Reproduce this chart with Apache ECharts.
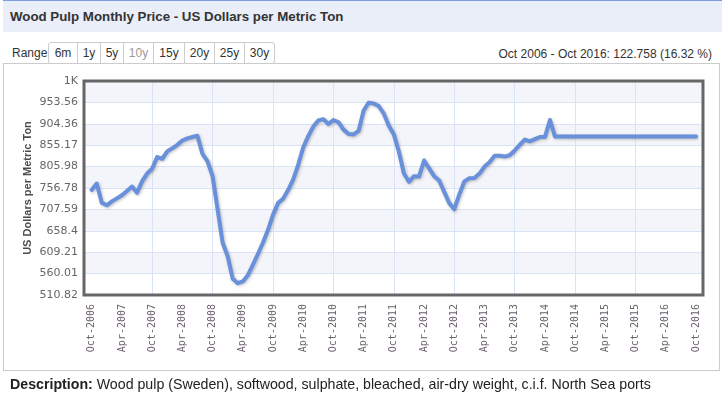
<!DOCTYPE html>
<html>
<head>
<meta charset="utf-8">
<script src="https://cdn.jsdelivr.net/npm/echarts@6/dist/echarts.min.js"></script>
<style>
    body { margin: 0; width: 722px; height: 398px; background: #fff; font-family: "Liberation Sans", Arial, sans-serif; position: relative; overflow: hidden; }
    #titleBar { position: absolute; left: 3px; top: 0; width: 719px; height: 31px; background: #E9EEF9; border-top: 1px solid #7E9DDF; }
    #titleBar span { position: absolute; left: 7px; top: 8px; font-size: 13.3px; font-weight: bold; color: #333; }
    #rangeLbl { position: absolute; left: 12px; top: 46px; font-size: 12px; color: #333; }
    #btns { position: absolute; left: 48px; top: 42px; height: 20px; border: 1px solid #ccc; border-radius: 3px; background: #fff; display: flex; z-index: 2; }
    #btns div { font-size: 12px; color: #333; line-height: 20px; text-align: center; border-left: 1px solid #ccc; }
    #btns div:first-child { border-left: none; }
    #btns div.sel { color: #999; }
    #change { position: absolute; right: 10px; top: 47px; font-size: 12px; color: #333; }
    #box { position: absolute; left: 3px; top: 63px; width: 715px; height: 306px; border: 1px solid #ccc; }
    #main { position: absolute; left: 0; top: 0; width: 722px; height: 398px; }
    #desc { position: absolute; left: 10px; top: 376px; font-size: 14.2px; color: #222; }
</style>
</head>
<body>
<div id="titleBar"><span>Wood Pulp Monthly Price - US Dollars per Metric Ton</span></div>
<div id="rangeLbl">Range</div>
<div id="btns">
    <div style="width:28px">6m</div>
    <div style="width:22px">1y</div>
    <div style="width:22px">5y</div>
    <div style="width:29px" class="sel">10y</div>
    <div style="width:30px">15y</div>
    <div style="width:29px">20y</div>
    <div style="width:29px">25y</div>
    <div style="width:29px">30y</div>
</div>
<div id="change">Oct 2006 - Oct 2016: 122.758 (16.32 %)</div>
<div id="box"></div>
<div id="main"></div>
<div id="desc"><b>Description:</b> Wood pulp (Sweden), softwood, sulphate, bleached, air-dry weight, c.i.f. North Sea ports</div>

<script>
// monthly prices, Oct 2006 .. Oct 2016
var prices = [
    752.2, 767, 723, 717, 726, 733, 740, 750, 760, 746, 772, 790,
    801, 828, 824, 841, 848, 856, 866, 871, 874, 877, 835, 818,
    784, 708, 631, 600, 548, 538, 542, 556, 580, 605, 631, 660,
    695, 722, 732, 752, 776, 810, 850, 876, 898, 912, 915, 904,
    913, 908, 891, 881, 880, 888, 935, 953, 951, 945, 928, 900,
    880, 840, 790, 771, 784, 783, 820, 802, 784, 774, 748, 722,
    708, 742, 772, 779, 780, 790, 806, 816, 831, 831, 829, 832,
    843, 856, 868, 864, 869, 874, 874, 913, 875, 874.96, 874.96, 874.96,
    874.96, 874.96, 874.96, 874.96, 874.96, 874.96, 874.96, 874.96, 874.96, 874.96, 874.96, 874.96,
    874.96, 874.96, 874.96, 874.96, 874.96, 874.96, 874.96, 874.96, 874.96, 874.96, 874.96, 874.96,
    874.96
];

var yTickLabels = ['510.82', '560.01', '609.21', '658.4', '707.59', '756.78', '805.98', '855.17', '904.36', '953.56', '1K'];
var yBase = 510.82;
var yStep = 49.1925;

var monthNames = ['Jan', 'Feb', 'Mar', 'Apr', 'May', 'Jun', 'Jul', 'Aug', 'Sep', 'Oct', 'Nov', 'Dec'];
var startYear = 2006, startMonth = 9;

var months = [];
for (var i = 0; i < prices.length; i++) {
    var m = startMonth + i;
    months.push(monthNames[m % 12] + '-' + (startYear + Math.floor(m / 12)));
}

function render() {
    var myChart = echarts.init(document.getElementById('main'));
    var yMax = yStep * 10;

    // y axis runs from 0, the base price is added back in the labels
    var seriesData = [];
    for (var i = 0; i < prices.length; i++) {
        seriesData.push(+(prices[i] - yBase).toFixed(3));
    }

    var option = {
        animation: false,
        graphic: [
            {
                type: 'text',
                x: 28,
                y: 188,
                rotation: Math.PI / 2,
                style: {
                    text: 'US Dollars per Metric Ton',
                    font: 'bold 11px "Liberation Sans"',
                    fill: '#4d4d4d',
                    align: 'center',
                    verticalAlign: 'middle'
                }
            }
        ],
        grid: [
            { left: 84, top: 81, width: 619, height: 214, show: true, borderColor: '#666', borderWidth: 3, backgroundColor: 'transparent', z: 3 },
            { left: 91.7, top: 81, width: 604.3, height: 214 }
        ],
        xAxis: [
            { gridIndex: 0, type: 'value', min: 0, max: 1, show: false },
            {
                gridIndex: 1,
                type: 'category',
                boundaryGap: false,
                data: months,
                axisLine: { show: false },
                axisTick: { show: false },
                axisLabel: {
                    interval: 5,
                    rotate: 90,
                    margin: 9,
                    fontFamily: 'DejaVu Sans Mono',
                    fontSize: 10,
                    color: '#6a5f6c'
                },
                splitLine: {
                    show: true,
                    interval: function (idx) {
                        return idx % 12 === 0 && idx > 0 && idx < prices.length - 1;
                    },
                    lineStyle: { color: '#D8E3F6', width: 1 }
                }
            }
        ],
        yAxis: [
            {
                gridIndex: 0,
                type: 'value',
                min: 0,
                max: yMax,
                interval: yStep,
                axisLine: { show: false },
                axisTick: { show: false },
                axisLabel: {
                    margin: 6,
                    fontFamily: 'DejaVu Sans',
                    fontSize: 11,
                    color: '#666',
                    formatter: function (v) {
                        return yTickLabels[Math.round(v / yStep)];
                    }
                },
                splitLine: { show: true, lineStyle: { color: '#D8E3F6', width: 1 } },
                splitArea: { show: true, areaStyle: { color: ['#ffffff', '#F3F5FB'] } }
            },
            { gridIndex: 1, type: 'value', min: 0, max: yMax, show: false }
        ],
        series: [
            {
                type: 'line',
                xAxisIndex: 1,
                yAxisIndex: 1,
                data: seriesData,
                showSymbol: false,
                z: 5,
                lineStyle: {
                    color: '#6990DA',
                    width: 4,
                    cap: 'round',
                    join: 'round',
                    shadowColor: 'rgba(0,0,0,0.25)',
                    shadowBlur: 3,
                    shadowOffsetX: 1,
                    shadowOffsetY: 1
                }
            }
        ]
    };

    myChart.setOption(option);
}

render();
</script>
</body>
</html>
